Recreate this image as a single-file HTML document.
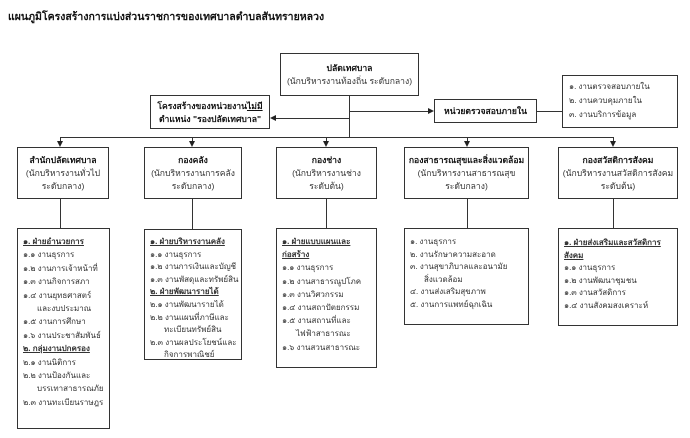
<!DOCTYPE html>
<html><head><meta charset="utf-8"><style>
body{margin:0;width:690px;height:438px;background:#fff;position:relative;overflow:hidden;font-family:"Liberation Sans","DejaVu Sans",sans-serif;color:#333}
.b{position:absolute;border:1px solid #333;box-sizing:border-box;background:#fff;font-size:8.6px}
.c{text-align:center}
.h{position:absolute;background:#333;height:1px}
.v{position:absolute;background:#333;width:1px}
.ad{position:absolute;width:0;height:0;border-left:3px solid transparent;border-right:3px solid transparent;border-top:6px solid #222}
.l{line-height:12.6px;padding:6px 0 0 5px;font-size:8px}
.l div{white-space:nowrap}
.u{text-decoration:underline;font-weight:bold}
.i{padding-left:14px}
.t{font-weight:bold;color:#111}
</style></head><body>
<div style="position:absolute;left:8px;top:8px;font-size:10.5px;font-weight:bold;color:#111">แผนภูมิโครงสร้างการแบ่งส่วนราชการของเทศบาลตำบลสันทรายหลวง</div>

<div class="b c" style="left:280px;top:53px;width:139px;height:43px;padding-top:8px;line-height:13px"><span class="t">ปลัดเทศบาล</span><br>(นักบริหารงานท้องถิ่น ระดับกลาง)</div>
<div class="v" style="left:349px;top:96px;height:41px"></div>

<div class="b c" style="left:150px;top:95px;width:120px;height:34px;padding-top:4px;line-height:13px;font-weight:bold;color:#111">โครงสร้างของหน่วยงาน<u>ไม่มี</u><br>ตำแหน่ง "รองปลัดเทศบาล"</div>
<div class="h" style="left:276px;top:118px;width:73px"></div>
<div style="position:absolute;left:270px;top:115px;border-top:3px solid transparent;border-bottom:3px solid transparent;border-right:6px solid #222"></div>

<div class="h" style="left:349px;top:111px;width:79px"></div>
<div style="position:absolute;left:428px;top:108px;border-top:3px solid transparent;border-bottom:3px solid transparent;border-left:6px solid #222"></div>
<div class="b c t" style="left:434px;top:99px;width:103px;height:24px;line-height:22px">หน่วยตรวจสอบภายใน</div>
<div class="h" style="left:537px;top:111px;width:25px"></div>
<div class="b" style="left:562px;top:75px;width:116px;height:53px;padding:4px 0 0 6px;line-height:14px;font-size:8px">๑. งานตรวจสอบภายใน<br>๒. งานควบคุมภายใน<br>๓. งานบริการข้อมูล</div>

<div class="h" style="left:60px;top:137px;width:554px"></div>
<div class="v" style="left:60px;top:137px;height:5px"></div><div class="ad" style="left:57px;top:141px"></div>
<div class="v" style="left:192px;top:137px;height:5px"></div><div class="ad" style="left:189px;top:141px"></div>
<div class="v" style="left:326px;top:137px;height:5px"></div><div class="ad" style="left:323px;top:141px"></div>
<div class="v" style="left:467px;top:137px;height:5px"></div><div class="ad" style="left:464px;top:141px"></div>
<div class="v" style="left:613px;top:137px;height:5px"></div><div class="ad" style="left:610px;top:141px"></div>

<div class="b c" style="left:17px;top:147px;width:92px;height:52px;padding-top:6px;line-height:13px"><span class="t">สำนักปลัดเทศบาล</span><br>(นักบริหารงานทั่วไป<br>ระดับกลาง)</div>
<div class="b c" style="left:144px;top:147px;width:98px;height:52px;padding-top:6px;line-height:13px"><span class="t">กองคลัง</span><br>(นักบริหารงานการคลัง<br>ระดับกลาง)</div>
<div class="b c" style="left:276px;top:147px;width:101px;height:52px;padding-top:6px;line-height:13px"><span class="t">กองช่าง</span><br>(นักบริหารงานช่าง<br>ระดับต้น)</div>
<div class="b c" style="left:404px;top:147px;width:125px;height:52px;padding-top:6px;line-height:13px"><span class="t">กองสาธารณสุขและสิ่งแวดล้อม</span><br>(นักบริหารงานสาธารณสุข<br>ระดับกลาง)</div>
<div class="b c" style="left:558px;top:147px;width:120px;height:52px;padding-top:6px;line-height:13px"><span class="t">กองสวัสดิการสังคม</span><br>(นักบริหารงานสวัสดิการสังคม<br>ระดับต้น)</div>

<div class="v" style="left:60px;top:199px;height:29px"></div>
<div class="v" style="left:192px;top:199px;height:30px"></div>
<div class="v" style="left:326px;top:199px;height:29px"></div>
<div class="v" style="left:467px;top:199px;height:29px"></div>
<div class="v" style="left:613px;top:199px;height:29px"></div>

<div class="b l" style="left:17px;top:228px;width:93px;height:201px;line-height:13.4px">
<div class="u">๑. ฝ่ายอำนวยการ</div><div>๑.๑ งานธุรการ</div><div>๑.๒ งานการเจ้าหน้าที่</div><div>๑.๓ งานกิจการสภา</div><div>๑.๔ งานยุทธศาสตร์</div><div class="i">และงบประมาณ</div><div>๑.๕ งานการศึกษา</div><div>๑.๖ งานประชาสัมพันธ์</div><div class="u">๒. กลุ่มงานปกครอง</div><div>๒.๑ งานนิติการ</div><div>๒.๒ งานป้องกันและ</div><div class="i">บรรเทาสาธารณภัย</div><div>๒.๓ งานทะเบียนราษฎร</div></div>

<div class="b l" style="left:144px;top:229px;width:98px;height:131px">
<div class="u">๑. ฝ่ายบริหารงานคลัง</div><div>๑.๑ งานธุรการ</div><div>๑.๒ งานการเงินและบัญชี</div><div>๑.๓ งานพัสดุและทรัพย์สิน</div><div class="u">๒. ฝ่ายพัฒนารายได้</div><div>๒.๑ งานพัฒนารายได้</div><div>๒.๒ งานแผนที่ภาษีและ</div><div class="i">ทะเบียนทรัพย์สิน</div><div>๒.๓ งานผลประโยชน์และ</div><div class="i">กิจการพาณิชย์</div></div>

<div class="b l" style="left:276px;top:228px;width:101px;height:140px;line-height:13.2px">
<div class="u">๑. ฝ่ายแบบแผนและ</div><div class="u">ก่อสร้าง</div><div>๑.๑ งานธุรการ</div><div>๑.๒ งานสาธารณูปโภค</div><div>๑.๓ งานวิศวกรรม</div><div>๑.๔ งานสถาปัตยกรรม</div><div>๑.๕ งานสถานที่และ</div><div class="i">ไฟฟ้าสาธารณะ</div><div>๑.๖ งานสวนสาธารณะ</div></div>

<div class="b l" style="left:404px;top:228px;width:125px;height:97px;padding-top:7px">
<div>๑. งานธุรการ</div><div>๒. งานรักษาความสะอาด</div><div>๓. งานสุขาภิบาลและอนามัย</div><div class="i">สิ่งแวดล้อม</div><div>๔. งานส่งเสริมสุขภาพ</div><div>๕. งานการแพทย์ฉุกเฉิน</div></div>

<div class="b l" style="left:558px;top:228px;width:120px;height:98px;padding-top:8px">
<div class="u">๑. ฝ่ายส่งเสริมและสวัสดิการ</div><div class="u">สังคม</div><div>๑.๑ งานธุรการ</div><div>๑.๒ งานพัฒนาชุมชน</div><div>๑.๓ งานสวัสดิการ</div><div>๑.๔ งานสังคมสงเคราะห์</div></div>
</body></html>
